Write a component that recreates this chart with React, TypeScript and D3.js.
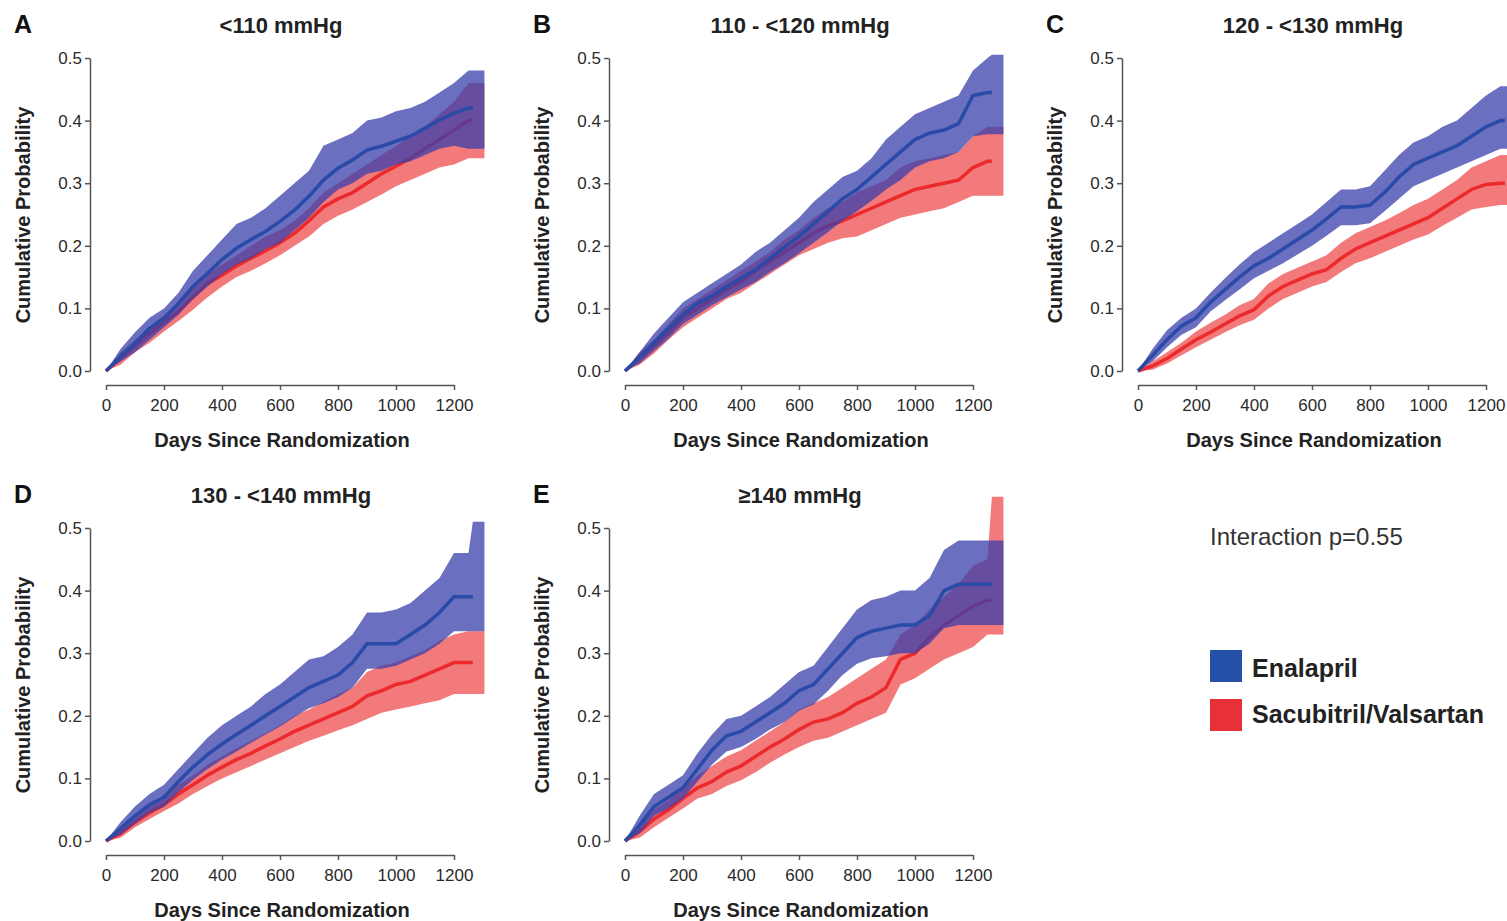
import React, { useEffect, useRef } from 'react'
import * as d3 from 'd3'

// days since randomization (last entry = end of the curves)
const days = [0, 50, 100, 150, 200, 250, 300, 350, 400, 450, 500, 550, 600, 650, 700, 750, 800, 850, 900, 950, 1000, 1050, 1100, 1150, 1200, 1250, 1265]
const BAND_END = 1305

const xTicks = [0, 200, 400, 600, 800, 1000, 1200]
const yTicks = [0, 0.1, 0.2, 0.3, 0.4, 0.5]

// A  <110 mmHg
const aEnal = [0, .023, .044, .068, .084, .108, .135, .156, .178, .196, .21, .223, .239, .257, .279, .305, .324, .337, .353, .359, .367, .375, .388, .401, .412, .42, .42]
const aEnalHi = [0, .035, .062, .085, .10, .125, .16, .185, .21, .235, .245, .26, .28, .30, .32, .36, .37, .38, .40, .405, .415, .42, .43, .445, .46, .48, .48]
const aEnalLo = [0, .015, .03, .05, .07, .09, .115, .135, .155, .17, .18, .195, .205, .225, .245, .27, .29, .30, .315, .32, .33, .335, .345, .355, .36, .355, .355]
const aSacu = [0, .02, .04, .06, .078, .095, .118, .14, .153, .168, .18, .192, .205, .22, .24, .262, .275, .285, .30, .315, .327, .34, .355, .37, .385, .40, .40]
const aSacuHi = [0, .03, .05, .07, .09, .11, .135, .155, .17, .185, .20, .215, .225, .24, .26, .285, .30, .315, .33, .345, .36, .375, .39, .41, .43, .46, .46]
const aSacuLo = [0, .01, .03, .045, .063, .08, .098, .118, .135, .15, .16, .172, .185, .20, .215, .235, .248, .258, .27, .282, .295, .305, .315, .325, .33, .34, .34]

// B  110 - <120 mmHg
const bEnal = [0, .022, .045, .068, .09, .108, .12, .135, .148, .162, .18, .198, .215, .235, .255, .275, .29, .31, .33, .35, .37, .38, .385, .395, .44, .445, .445]
const bEnalHi = [0, .03, .06, .085, .11, .125, .14, .155, .17, .19, .205, .225, .245, .27, .29, .31, .32, .34, .37, .39, .41, .42, .43, .44, .48, .50, .505]
const bEnalLo = [0, .012, .032, .052, .075, .09, .105, .118, .13, .142, .158, .172, .188, .205, .222, .24, .255, .272, .29, .305, .325, .335, .34, .35, .375, .378, .378]
const bSacu = [0, .02, .04, .062, .085, .10, .115, .13, .142, .16, .175, .19, .205, .22, .232, .24, .25, .26, .27, .28, .29, .295, .30, .305, .325, .335, .335]
const bSacuHi = [0, .03, .05, .075, .10, .115, .13, .145, .16, .175, .19, .21, .225, .245, .26, .27, .285, .295, .305, .325, .335, .34, .345, .35, .375, .39, .39]
const bSacuLo = [0, .01, .028, .05, .07, .085, .10, .115, .125, .14, .155, .17, .185, .195, .205, .212, .215, .225, .235, .245, .25, .255, .26, .27, .28, .28, .28]

// C  120 - <130 mmHg
const cEnal = [0, .025, .05, .072, .085, .11, .13, .15, .168, .18, .195, .21, .225, .243, .262, .262, .265, .285, .31, .33, .34, .35, .36, .375, .39, .40, .40]
const cEnalHi = [0, .035, .065, .085, .10, .125, .148, .17, .19, .205, .22, .235, .25, .27, .29, .29, .295, .32, .345, .365, .375, .39, .40, .42, .44, .455, .455]
const cEnalLo = [0, .015, .038, .058, .07, .095, .113, .13, .148, .16, .172, .186, .20, .216, .233, .233, .236, .255, .275, .295, .305, .315, .325, .335, .345, .355, .355]
const cSacu = [0, .008, .02, .035, .05, .062, .075, .088, .098, .12, .135, .145, .155, .162, .18, .195, .205, .215, .225, .235, .245, .26, .275, .29, .298, .30, .30]
const cSacuHi = [0, .015, .03, .045, .063, .077, .09, .105, .115, .14, .155, .165, .175, .185, .205, .22, .23, .24, .252, .265, .275, .29, .305, .325, .335, .345, .345]
const cSacuLo = [0, .002, .012, .025, .038, .05, .062, .073, .082, .10, .115, .125, .135, .142, .158, .172, .18, .19, .20, .21, .218, .232, .245, .258, .262, .265, .265]

// D  130 - <140 mmHg
const dEnal = [0, .02, .04, .058, .07, .095, .118, .138, .155, .17, .185, .20, .215, .23, .245, .255, .265, .285, .315, .315, .315, .33, .345, .365, .39, .39, .39]
const dEnalHi = [0, .03, .055, .075, .09, .115, .14, .165, .185, .20, .215, .235, .25, .27, .29, .295, .31, .33, .365, .365, .37, .38, .40, .42, .46, .46, .51]
const dEnalLo = [0, .01, .028, .045, .055, .078, .098, .115, .13, .143, .157, .17, .183, .198, .212, .22, .23, .245, .275, .275, .28, .29, .30, .315, .335, .335, .335]
const dSacu = [0, .012, .03, .045, .058, .075, .09, .105, .118, .13, .14, .152, .163, .175, .185, .195, .205, .215, .232, .24, .25, .255, .265, .275, .285, .285, .285]
const dSacuHi = [0, .02, .04, .056, .07, .09, .105, .122, .135, .148, .16, .172, .185, .20, .21, .222, .235, .245, .27, .28, .285, .295, .305, .32, .33, .335, .335]
const dSacuLo = [0, .005, .022, .035, .048, .06, .075, .088, .10, .11, .12, .13, .14, .15, .16, .168, .177, .185, .195, .205, .21, .215, .22, .225, .235, .235, .235]

// E  >=140 mmHg
const eEnal = [0, .025, .055, .07, .085, .115, .145, .168, .175, .19, .205, .22, .24, .25, .275, .30, .325, .335, .34, .345, .345, .36, .40, .41, .41, .41, .41]
const eEnalHi = [0, .04, .075, .09, .105, .14, .17, .195, .20, .215, .23, .25, .27, .28, .31, .34, .37, .385, .39, .40, .40, .42, .465, .48, .48, .48, .48]
const eEnalLo = [0, .012, .04, .052, .068, .095, .122, .143, .15, .163, .178, .19, .208, .218, .24, .265, .283, .292, .295, .30, .30, .315, .34, .345, .345, .345, .345]
const eSacu = [0, .015, .035, .05, .068, .085, .095, .11, .12, .135, .15, .163, .178, .19, .195, .205, .22, .23, .245, .29, .30, .325, .345, .36, .375, .385, .385]
const eSacuHi = [0, .025, .05, .065, .085, .105, .12, .135, .145, .16, .175, .19, .21, .22, .23, .245, .26, .275, .29, .33, .345, .37, .39, .41, .44, .45, .55]
const eSacuLo = [0, .005, .022, .037, .052, .068, .075, .088, .097, .11, .125, .138, .15, .16, .165, .175, .185, .195, .205, .25, .26, .275, .29, .30, .31, .33, .33]

const legendLabels = ['Enalapril', 'Sacubitril/Valsartan']

const panels = [
  { letter: 'A', title: '<110 mmHg', x0: 106, y0: 371, enal: [aEnal, aEnalLo, aEnalHi], sacu: [aSacu, aSacuLo, aSacuHi] },
  { letter: 'B', title: '110 - <120 mmHg', x0: 625, y0: 371, enal: [bEnal, bEnalLo, bEnalHi], sacu: [bSacu, bSacuLo, bSacuHi] },
  { letter: 'C', title: '120 - <130 mmHg', x0: 1138, y0: 371, enal: [cEnal, cEnalLo, cEnalHi], sacu: [cSacu, cSacuLo, cSacuHi] },
  { letter: 'D', title: '130 - <140 mmHg', x0: 106, y0: 841, enal: [dEnal, dEnalLo, dEnalHi], sacu: [dSacu, dSacuLo, dSacuHi] },
  { letter: 'E', title: '\u2265140 mmHg', x0: 625, y0: 841, enal: [eEnal, eEnalLo, eEnalHi], sacu: [eSacu, eSacuLo, eSacuHi] },
]

const FONT = '"Liberation Sans", Arial, Helvetica, sans-serif'
const BLUE_BAND = '#383fab'
const BLUE_LINE = '#2a4aa8'
const RED_BAND = '#f27a7b'
const RED_LINE = '#ec2a2d'

export default function App() {
  const svgRef = useRef<SVGSVGElement>(null)

  useEffect(() => {
    const svg = d3.select(svgRef.current)
    svg.selectAll('*').remove()

    panels.forEach(p => {
      const x = d3.scaleLinear().domain([0, 1200]).range([p.x0, p.x0 + 348])
      const y = d3.scaleLinear().domain([0, 0.5]).range([p.y0, p.y0 - 313])
      const g = svg.append('g')

      // bands run a little past the last event, holding the final value
      const bandDays = [...days, BAND_END]
      const last = days.length - 1
      const band = (lo: number[], hi: number[]) => d3.area<number>()
        .curve(d3.curveLinear)
        .x(i => x(bandDays[i]))
        .y0(i => y(lo[Math.min(i, last)]))
        .y1(i => y(hi[Math.min(i, last)]))(d3.range(bandDays.length))
      const line = (v: number[]) => d3.line<number>()
        .curve(d3.curveLinear)
        .x(i => x(days[i]))
        .y(i => y(v[i]))(d3.range(days.length))

      // sacubitril/valsartan underneath, enalapril translucent on top
      g.append('path').attr('d', band(p.sacu[1], p.sacu[2])).attr('fill', RED_BAND)
      g.append('path').attr('d', line(p.sacu[0])).attr('fill', 'none').attr('stroke', RED_LINE).attr('stroke-width', 3.5)
      g.append('path').attr('d', band(p.enal[1], p.enal[2])).attr('fill', BLUE_BAND).attr('fill-opacity', 0.75)
      g.append('path').attr('d', line(p.enal[0])).attr('fill', 'none').attr('stroke', BLUE_LINE).attr('stroke-width', 3.5)

      const yAxis = g.append('g')
        .attr('transform', `translate(${p.x0 - 16},0)`)
        .call(d3.axisLeft(y).tickValues(yTicks).tickFormat(d3.format('.1f')).tickSize(5).tickSizeOuter(0).tickPadding(3))
      const xAxis = g.append('g')
        .attr('transform', `translate(0,${p.y0 + 14})`)
        .call(d3.axisBottom(x).tickValues(xTicks).tickFormat(d3.format('d')).tickSize(5).tickSizeOuter(0).tickPadding(9))
      ;[yAxis, xAxis].forEach(ax => {
        ax.select('.domain').attr('stroke', '#555').attr('stroke-width', 1.5)
        ax.selectAll('.tick line').attr('stroke', '#555').attr('stroke-width', 1.5)
        ax.selectAll('.tick text').attr('fill', '#2a2a2a').style('font-family', FONT).style('font-size', '17px')
      })

      g.append('text')
        .attr('x', p.x0 - 92).attr('y', p.y0 - 338)
        .style('font-family', FONT).style('font-size', '25px').style('font-weight', 'bold')
        .attr('fill', '#111').text(p.letter)
      g.append('text')
        .attr('x', p.x0 + 175).attr('y', p.y0 - 338)
        .attr('text-anchor', 'middle')
        .style('font-family', FONT).style('font-size', '22px').style('font-weight', 'bold')
        .attr('fill', '#222').text(p.title)
      g.append('text')
        .attr('x', p.x0 + 176).attr('y', p.y0 + 76)
        .attr('text-anchor', 'middle')
        .style('font-family', FONT).style('font-size', '20px').style('font-weight', 'bold')
        .attr('fill', '#222').text('Days Since Randomization')
      g.append('text')
        .attr('transform', `translate(${p.x0 - 76},${p.y0 - 156}) rotate(-90)`)
        .attr('text-anchor', 'middle')
        .style('font-family', FONT).style('font-size', '20px').style('font-weight', 'bold')
        .attr('fill', '#222').text('Cumulative Probability')
    })

    svg.append('text')
      .attr('x', 1210).attr('y', 545)
      .style('font-family', FONT).style('font-size', '24px')
      .attr('fill', '#333').text('Interaction p=0.55')

    const legendColors = ['#2550a8', '#e8303a']
    legendLabels.forEach((lab, i) => {
      svg.append('rect')
        .attr('x', 1210).attr('y', 650 + i * 49).attr('width', 32).attr('height', 32)
        .attr('fill', legendColors[i])
      svg.append('text')
        .attr('x', 1252).attr('y', 677 + i * 46)
        .style('font-family', FONT).style('font-size', '25px').style('font-weight', 'bold')
        .attr('fill', '#222').text(lab)
    })
  }, [])

  return (
    <div style={{ position: 'absolute', left: 0, top: 0 }}>
      <svg ref={svgRef} width={1507} height={921} style={{ display: 'block', background: '#fff' }}></svg>
    </div>
  )
}
